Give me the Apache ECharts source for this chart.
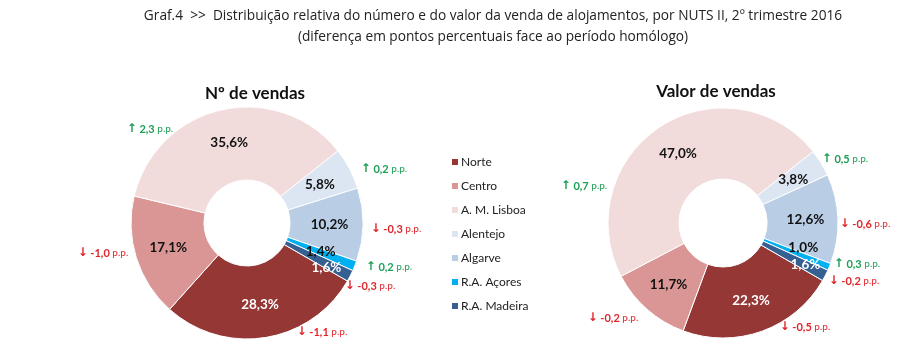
<!DOCTYPE html>
<html>
<head>
<meta charset="utf-8">
<script src="https://cdn.jsdelivr.net/npm/echarts@6/dist/echarts.min.js"></script>
<style>
html,body{margin:0;padding:0;background:#fff;}
#c{width:901px;height:363px;}
</style>
</head>
<body>
<div id="c"></div>
<script>
// ---- data ----
var regions = ['Norte', 'Centro', 'A. M. Lisboa', 'Alentejo', 'Algarve', 'R.A. Açores', 'R.A. Madeira'];
var salesCountShare = [28.3, 17.1, 35.6, 5.8, 10.2, 1.4, 1.6];
var salesCountChange = [-1.1, -1.0, 2.3, 0.2, -0.3, 0.2, -0.3];
var salesValueShare = [22.3, 11.7, 47.0, 3.8, 12.6, 1.0, 1.6];
var salesValueChange = [-0.5, -0.2, 0.7, 0.5, -0.6, 0.3, -0.2];
var mainTitle = 'Graf.4  >>  Distribuição relativa do número e do valor da venda de alojamentos, por NUTS II, 2º trimestre 2016\n(diferença em pontos percentuais face ao período homólogo)';
var chartTitles = ['Nº de vendas', 'Valor de vendas'];

// ---- styles ----
var colors = ['#953735', '#D99694', '#F2DCDB', '#DCE6F2', '#B9CDE5', '#00B0F0', '#376092'];
var pctLabelColors = ['#fff', '#111', '#111', '#111', '#111', '#111', '#fff'];
var FONT = 'Lato, "Open Sans", sans-serif';
var pies = [
  { cx: 247, cy: 223, r0: 43, r: 116,
    pctNudge: [[0,0],[0,0],[0,0],[0,0],[0,0],[-3,-2],[6,7]],
    changePos: [[75,109],[-144,30],[-97,-94],[137,-54],[149,6],[142,44],[123,63]] },
  { cx: 723, cy: 223, r0: 44, r: 115,
    pctNudge: [[0,0],[0,0],[0,0],[0,0],[0,0],[4,-7],[9,4]],
    changePos: [[82,104],[-110,95],[-139,-37],[122,-64],[142,1],[134,41],[131,58]] }
];
var GREEN = '#1f9e55', RED = '#e0262b';

function fmt(v) { return v.toFixed(1).replace('.', ','); }

function buildSeries(shares, changes, p) {
  var main = {
    type: 'pie', center: [p.cx, p.cy], radius: [p.r0, p.r], startAngle: -30, clockwise: true,
    avoidLabelOverlap: false, silent: true,
    itemStyle: { borderColor: '#fff', borderWidth: 1 },
    label: { show: true, position: 'inside', fontFamily: FONT, fontWeight: 'bold', fontSize: 13.5 },
    labelLine: { show: false },
    data: regions.map(function (n, i) {
      return { name: n, value: shares[i],
        itemStyle: { color: colors[i] },
        label: { color: pctLabelColors[i], offset: p.pctNudge[i], formatter: fmt(shares[i]) + '%' } };
    })
  };
  var ann = {
    type: 'pie', center: [p.cx, p.cy], radius: [p.r0, p.r], startAngle: -30, clockwise: true,
    avoidLabelOverlap: false, silent: true,
    itemStyle: { color: 'rgba(0,0,0,0)' },
    label: { show: true, position: 'outside', fontFamily: FONT, fontSize: 10,
      rich: {
        up: { color: GREEN, fontSize: 12, fontWeight: 'bold', fontFamily: 'DejaVu Sans' },
        dn: { color: RED, fontSize: 12, fontWeight: 'bold', fontFamily: 'DejaVu Sans' },
        gv: { color: GREEN, fontSize: 11, fontWeight: 'bold', fontFamily: FONT },
        rv: { color: RED, fontSize: 11, fontWeight: 'bold', fontFamily: FONT },
        gp: { color: GREEN, fontSize: 10, fontFamily: FONT },
        rp: { color: RED, fontSize: 10, fontFamily: FONT }
      }
    },
    labelLine: { show: false },
    labelLayout: function (params) {
      var o = p.changePos[params.dataIndex];
      return { x: p.cx + o[0], y: p.cy + o[1], align: 'center', verticalAlign: 'middle' };
    },
    data: regions.map(function (n, i) {
      var c = changes[i];
      var txt = c >= 0 ? '{up|↑} {gv|' + fmt(c) + '} {gp|p.p.}' : '{dn|↓} {rv|' + fmt(c) + '} {rp|p.p.}';
      return { name: n, value: shares[i], label: { formatter: txt } };
    })
  };
  return [main, ann];
}

var chart = echarts.init(document.getElementById('c'), null, { renderer: 'canvas' });
chart.setOption({
  backgroundColor: '#fff',
  animation: false,
  title: [
    { text: mainTitle, left: 488, top: 1, textAlign: 'center',
      textStyle: { fontFamily: '"Open Sans", sans-serif', fontWeight: 'normal', fontSize: 13.7, color: '#222', lineHeight: 21 } },
    { text: chartTitles[0], left: 250, top: 80, textAlign: 'center',
      textStyle: { fontFamily: FONT, fontWeight: 'bold', fontSize: 17, color: '#111' } },
    { text: chartTitles[1], left: 711, top: 78, textAlign: 'center',
      textStyle: { fontFamily: FONT, fontWeight: 'bold', fontSize: 17, color: '#111' } }
  ],
  legend: {
    orient: 'vertical', left: 445, top: 151, icon: 'rect', itemWidth: 8, itemHeight: 8, itemGap: 12,
    selectedMode: false,
    data: regions,
    textStyle: { fontFamily: FONT, fontSize: 12, color: '#222', padding: [0, 0, 0, -3] }
  },
  series: buildSeries(salesCountShare, salesCountChange, pies[0])
    .concat(buildSeries(salesValueShare, salesValueChange, pies[1]))
});
</script>
</body>
</html>
